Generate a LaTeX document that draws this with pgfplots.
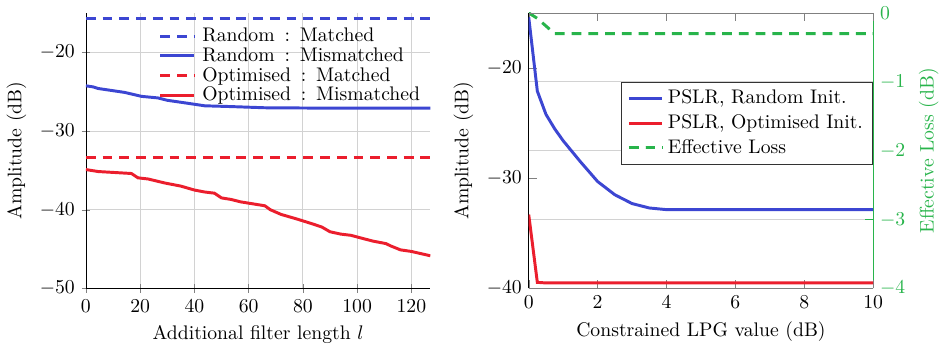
\documentclass[border=0pt]{standalone}
\usepackage{pgfplots}
\pgfplotsset{compat=1.18}
\definecolor{cblue}{RGB}{60,70,210}
\definecolor{cred}{RGB}{235,30,45}
\definecolor{cgreen}{RGB}{40,180,75}
\begin{document}
\begin{tikzpicture}
\begin{axis}[scale only axis, width=175pt, height=140pt,
  xmin=0, xmax=127, ymin=-50, ymax=-15,
  axis lines=left, axis line style={-},
  grid=major, grid style={gray!35},
  xtick={0,20,...,120}, ytick={-50,-40,-30,-20},
  xlabel={Additional filter length $l$}, ylabel={Amplitude (dB)},
  legend style={draw=none, fill=none, at={(1.0,0.975)}, anchor=north east, row sep=-2.5pt},
  legend cell align=left]
\addplot[cblue, line width=1.5pt, dash pattern=on 5pt off 3.5pt] coordinates {(0,-15.7) (127,-15.7)};
\addlegendentry{\hspace{1.5pt}Random\enspace:\enspace Matched}
\addplot[cblue, line width=1.5pt] coordinates {
(0,-24.26) (2.7,-24.4) (4.5,-24.6) (14.3,-25.1) (20.5,-25.6) (26.6,-25.8) (30,-26.1) (36,-26.4) (43.8,-26.8) (53.6,-26.9) (66,-27.05) (90,-27.1) (127,-27.1)};
\addlegendentry{\hspace{1.5pt}Random\enspace:\enspace Mismatched}
\addplot[cred, line width=1.5pt, dash pattern=on 5pt off 3.5pt] coordinates {(0,-33.33) (127,-33.33)};
\addlegendentry{\hspace{1.5pt}Optimised\enspace:\enspace Matched}
\addplot[cred, line width=1.5pt] coordinates {
(0,-34.9) (4.5,-35.15) (16.8,-35.4) (19.2,-35.95) (23,-36.1) (29,-36.6) (35,-37.0) (40,-37.5) (43.8,-37.75) (47.4,-37.9) (50,-38.5) (53.6,-38.7) (57,-39.0) (66,-39.5) (68,-40.0) (72,-40.6) (78,-41.2) (84,-41.85) (87,-42.2) (90,-42.8) (94,-43.1) (97.7,-43.25) (102.6,-43.7) (106,-44.0) (110.6,-44.3) (112.4,-44.6) (116,-45.1) (120,-45.3) (127,-45.85)};
\addlegendentry{\hspace{1.5pt}Optimised\enspace:\enspace Mismatched}
\end{axis}

\begin{axis}[at={(225pt,0)}, scale only axis, width=175pt, height=140pt,
  xmin=0, xmax=10, ymin=-4, ymax=0,
  axis y line*=right, hide x axis,
  ymajorgrids, grid style={gray!35},
  y axis line style={cgreen}, ytick style={cgreen}, yticklabel style={cgreen},
  ytick={-4,-3,-2,-1,0},
  ylabel={Effective Loss (dB)}, ylabel style={cgreen}]
\addplot[cgreen, line width=1.5pt, dash pattern=on 5pt off 3.5pt] coordinates {
(0,0) (0.25,-0.08) (0.5,-0.19) (0.75,-0.3) (1,-0.3) (10,-0.3)};
\end{axis}

\begin{axis}[at={(225pt,0)}, scale only axis, width=175pt, height=140pt,
  xmin=0, xmax=10, ymin=-40, ymax=-15,
  axis y line*=left, axis x line*=box,
  x axis line style={gray}, xtick style={gray},
  xtick={0,2,...,10}, ytick={-40,-30,-20},
  xlabel={Constrained LPG value (dB)}, ylabel={Amplitude (dB)},
  legend style={at={(1,0.75)}, anchor=north east, draw=black!80},
  legend cell align=left]
\addplot[cblue, line width=1.5pt] coordinates {
(0,-15.4) (0.25,-22.1) (0.5,-24.2) (0.75,-25.5) (1,-26.6) (1.5,-28.5) (2,-30.3) (2.5,-31.5) (3,-32.3) (3.5,-32.7) (4,-32.85) (10,-32.85)};
\addlegendentry{PSLR, Random Init.}
\addplot[cred, line width=1.5pt] coordinates {
(0,-33.3) (0.25,-39.45) (0.5,-39.5) (10,-39.5)};
\addlegendentry{PSLR, Optimised Init.}
\addlegendimage{cgreen, line width=1.5pt, dash pattern=on 5pt off 3.5pt}
\addlegendentry{Effective Loss}
\end{axis}
\end{tikzpicture}
\end{document}
